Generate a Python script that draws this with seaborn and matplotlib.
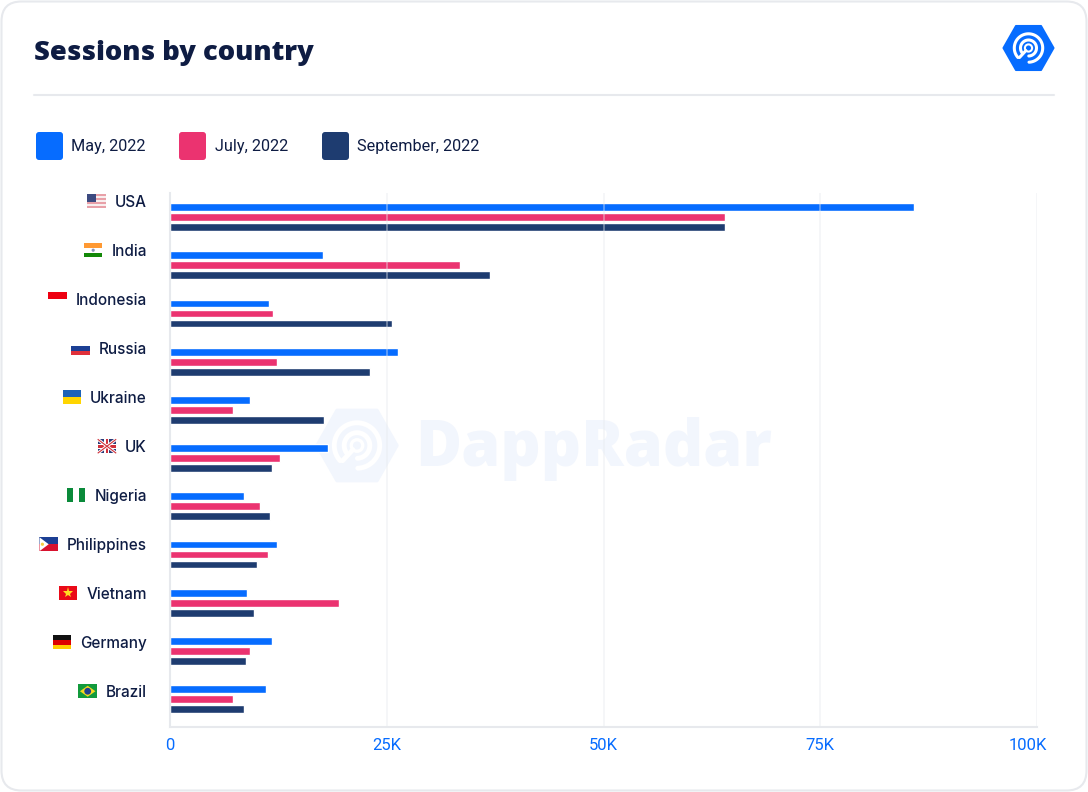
"""
Sessions by country - DappRadar style horizontal grouped bars
"""

import numpy as np
import pandas as pd
import matplotlib.pyplot as plt
import seaborn as sns
from matplotlib.patches import FancyBboxPatch, Polygon, Rectangle, Circle
from matplotlib.transforms import ScaledTranslation

countries = ['USA', 'India', 'Indonesia', 'Russia', 'Ukraine', 'UK', 'Nigeria',
             'Philippines', 'Vietnam', 'Germany', 'Brazil']
may_2022 = [85.8, 17.6, 11.4, 26.3, 9.2, 18.2, 8.5, 12.3, 8.9, 11.8, 11.1]
july_2022 = [64.0, 33.4, 11.9, 12.3, 7.3, 12.7, 10.4, 11.3, 19.5, 9.2, 7.3]
september_2022 = [64.0, 36.9, 25.6, 23.1, 17.8, 11.8, 11.5, 10.0, 9.7, 8.8, 8.5]
periods = ['May, 2022', 'July, 2022', 'September, 2022']
x_ticks = [0, 25, 50, 75, 100]
x_tick_labels = ['0', '25K', '50K', '75K', '100K']

BLUE = '#066cff'
PINK = '#eb3370'
NAVY = '#1e3c70'
DARK = '#0e1c43'
PALE = '#f2f6fd'
LINE = '#e7e9ed'

sns.set_theme(style='white')
plt.rcParams['font.family'] = ['Roboto', 'DejaVu Sans']

W, H = 1088, 792
fig = plt.figure(figsize=(W / 100, H / 100), dpi=100, facecolor='white')

# background layer in pixel coordinates, y pointing down
bg = fig.add_axes([0, 0, 1, 1], zorder=0)
bg.set_xlim(0, W)
bg.set_ylim(H, 0)
bg.axis('off')

bg.add_patch(FancyBboxPatch((1.5, 1.5), W - 3, H - 3, boxstyle='round,pad=0,rounding_size=20',
                            fc='white', ec=LINE, lw=1.5))
bg.text(34, 53, 'Sessions by country', fontsize=19.7, fontweight='heavy', color=DARK,
        family='Open Sans', va='center')
bg.plot([34, 1054], [95, 95], color=LINE, lw=1.5)


def draw_logo(cx, cy, scale, hex_color, mark_color):
    # flat topped hexagon with the radar rings on it
    hx = np.array([-25, -12.5, 12.5, 25, 12.5, -12.5]) * scale
    hy = np.array([0, -22, -22, 0, 22, 22]) * scale
    bg.add_patch(Polygon(np.c_[cx + hx, cy + hy], closed=True, fc=hex_color, ec=hex_color,
                         lw=1.5 * scale, joinstyle='round'))
    for r in [14.2, 8]:
        t = np.radians(np.linspace(-88, 222, 80))
        bg.plot(cx + r * scale * np.cos(t), cy - r * scale * np.sin(t), color=mark_color,
                lw=2.2 * scale, solid_capstyle='round')
    bg.add_patch(Circle((cx, cy), 3.6 * scale, fc=hex_color, ec=mark_color, lw=1.5 * scale))
    bg.plot([cx - 2.6 * scale, cx - 9 * scale], [cy + 2.6 * scale, cy + 9.5 * scale],
            color=mark_color, lw=2.2 * scale, solid_capstyle='round')


draw_logo(1028.5, 48, 1.0, BLUE, 'white')
draw_logo(357, 445.5, 1.6, PALE, 'white')
bg.text(415, 449, 'DappRadar', fontsize=45.3, fontweight='heavy', color=PALE,
        family='Open Sans', va='center')

# legend
for period, color, sx, tx in zip(periods, [BLUE, PINK, NAVY], [36, 179, 322], [71, 215, 357]):
    bg.add_patch(FancyBboxPatch((sx, 132), 27, 28, boxstyle='round,pad=0,rounding_size=3',
                                fc=color, ec='none'))
    bg.text(tx, 146.5, period, fontsize=11.7, color=DARK, va='center')

# main chart
df = pd.DataFrame({'country': countries * 3,
                   'sessions': may_2022 + july_2022 + september_2022,
                   'period': np.repeat(periods, len(countries))})

ax = fig.add_axes([170 / W, 1 - 727 / H, (1037 - 170) / W, (727 - 193) / H], zorder=1)
ax.patch.set_visible(False)
sns.barplot(data=df, y='country', x='sessions', hue='period', order=countries, hue_order=periods,
            palette=[BLUE, PINK, NAVY], width=0.622, gap=0.22, legend=False, ax=ax, saturation=1)

ax.set_xlim(0, 100)
ax.set_ylim(10.58, -0.498)
ax.set_xlabel('')
ax.set_ylabel('')
ax.set_xticks(x_ticks)
ax.set_xticklabels(x_tick_labels, color=BLUE, fontsize=12)
ax.tick_params(axis='x', length=0, pad=8)
ax.tick_params(axis='y', length=0, pad=16.6)
ax.grid(True, axis='x', color='#e6e9ee', alpha=0.45, lw=1.2)
ax.grid(False, axis='y')
ax.set_axisbelow(False)
sns.despine(ax=ax, top=True, right=True)
for side in ['left', 'bottom']:
    ax.spines[side].set_color(LINE)
    ax.spines[side].set_linewidth(1.5)

# the last tick label is pulled back inside the card
last = ax.get_xticklabels()[-1]
last.set_transform(last.get_transform() + ScaledTranslation(-9 / 100, 0, fig.dpi_scale_trans))

# country names sit above the bar group, on a slightly wider rhythm than the bars
for i, label in enumerate(ax.get_yticklabels()):
    lift = ScaledTranslation(0, (16.3 - 0.8 * i) / 100, fig.dpi_scale_trans)
    label.set_family(['Inter', 'DejaVu Sans'])
    label.set_fontsize(11)
    label.set_fontweight('medium')
    label.set_color(DARK)
    label.set_transform(label.get_transform() + lift)


def stripes(x, y, w, h, colors):
    for i, c in enumerate(colors):
        bg.add_patch(Rectangle((x, y + i * h / len(colors)), w, h / len(colors), fc=c, ec='none'))


def draw_flag(name, x, y, w=18.5, h=14):
    if name == 'USA':
        stripes(x, y, w, h, ['#e8a0a8', '#f8eeee'] * 3 + ['#e8a0a8'])
        bg.add_patch(Rectangle((x, y), w * 0.48, h * 0.55, fc='#3c4a80', ec='none'))
    elif name == 'India':
        stripes(x, y, w, h, ['#ff9933', 'white', '#138808'])
        bg.add_patch(Circle((x + w / 2, y + h / 2), 1.6, fc='#8a93b8', ec='none'))
    elif name == 'Indonesia':
        stripes(x, y, w, h, ['#ee0011', 'white'])
    elif name == 'Russia':
        stripes(x, y, w, h, ['white', '#1c3f94', '#e0303a'])
    elif name == 'Ukraine':
        stripes(x, y, w, h, ['#1c62b8', '#ffd500'])
    elif name == 'UK':
        bg.add_patch(Rectangle((x, y), w, h, fc='#2a3a78', ec='none'))
        bg.plot([x, x + w], [y, y + h], color='white', lw=2.2, solid_capstyle='butt')
        bg.plot([x, x + w], [y + h, y], color='white', lw=2.2, solid_capstyle='butt')
        bg.plot([x, x + w], [y, y + h], color='#d0303a', lw=0.8, solid_capstyle='butt')
        bg.plot([x, x + w], [y + h, y], color='#d0303a', lw=0.8, solid_capstyle='butt')
        bg.add_patch(Rectangle((x + w / 2 - 2.5, y), 5, h, fc='white', ec='none'))
        bg.add_patch(Rectangle((x, y + h / 2 - 2.5), w, 5, fc='white', ec='none'))
        bg.add_patch(Rectangle((x + w / 2 - 1.3, y), 2.6, h, fc='#d0303a', ec='none'))
        bg.add_patch(Rectangle((x, y + h / 2 - 1.3), w, 2.6, fc='#d0303a', ec='none'))
    elif name == 'Nigeria':
        for i, c in enumerate(['#0a8a3a', 'white', '#0a8a3a']):
            bg.add_patch(Rectangle((x + i * w / 3, y), w / 3, h, fc=c, ec='none'))
    elif name == 'Philippines':
        stripes(x, y, w, h, ['#1c3f94', '#d8122e'])
        bg.add_patch(Polygon([(x, y), (x + w * 0.5, y + h / 2), (x, y + h)], fc='white', ec='none'))
        bg.add_patch(Circle((x + w * 0.16, y + h / 2), 1.6, fc='#f5cc40', ec='none'))
    elif name == 'Vietnam':
        bg.add_patch(Rectangle((x, y), w, h, fc='#ea0a18', ec='none'))
        bg.plot([x + w / 2], [y + h / 2], marker='*', ms=8, color='#ffdd22', mew=0)
    elif name == 'Germany':
        stripes(x, y, w, h, ['#111111', '#dd0000', '#ffcc00'])
    elif name == 'Brazil':
        bg.add_patch(Rectangle((x, y), w, h, fc='#129a3c', ec='none'))
        bg.add_patch(Polygon([(x + 1.5, y + h / 2), (x + w / 2, y + 1.5),
                              (x + w - 1.5, y + h / 2), (x + w / 2, y + h - 1.5)],
                             fc='#f5d820', ec='none'))
        bg.add_patch(Circle((x + w / 2, y + h / 2), 3.4, fc='#1f3f8f', ec='none'))


# flags go just left of each country name
fig.canvas.draw()
renderer = fig.canvas.get_renderer()
for label in ax.get_yticklabels():
    box = label.get_window_extent(renderer)
    center_y = H - (box.y0 + box.y1) / 2
    draw_flag(label.get_text(), box.x0 - 9 - 18.5, center_y - 8)

plt.savefig('out.png', dpi=100)
plt.close()
